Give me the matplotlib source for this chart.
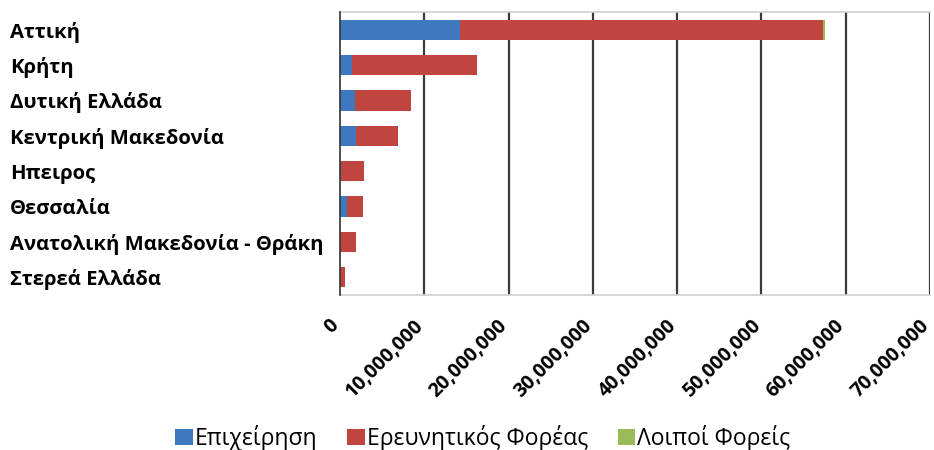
import matplotlib
matplotlib.use("Agg")
import matplotlib.pyplot as plt
import matplotlib.transforms as mtransforms
import numpy as np
from matplotlib.ticker import FuncFormatter

categories = ["Αττική", "Κρήτη", "Δυτική Ελλάδα", "Κεντρική Μακεδονία", "Ηπειρος",
              "Θεσσαλία", "Ανατολική Μακεδονία - Θράκη", "Στερεά Ελλάδα"]
series_names = ["Επιχείρηση", "Ερευνητικός Φορέας", "Λοιποί Φορείς"]
epixeirisi = [14260000, 1430000, 1820000, 1860000, 100000, 830000, 50000, 0]
ereunitikos = [43090000, 14850000, 6660000, 5030000, 2710000, 1860000, 1890000, 550000]
loipoi = [200000, 0, 0, 0, 0, 0, 0, 0]
xticks = [0, 10000000, 20000000, 30000000, 40000000, 50000000, 60000000, 70000000]
colors = ["#3E78BE", "#C0453F", "#9BBB59"]

plt.rcParams['font.family'] = ['Open Sans', 'DejaVu Sans']
fig = plt.figure(figsize=(9.34, 4.5), dpi=100)
ax = fig.add_axes([340/934, 1-295/450, 590/934, 283/450])

y = np.arange(len(categories))
h = 0.57
left = np.zeros(len(categories))
for vals, c, name in zip([epixeirisi, ereunitikos, loipoi], colors, series_names):
    ax.barh(y, vals, left=left, height=h, color=c, label=name, zorder=3)
    left = left + np.array(vals)

ax.set_ylim(len(categories) - 0.5, -0.5)
ax.set_xlim(0, 70000000)
ax.set_xticks(xticks)
ax.xaxis.set_major_formatter(FuncFormatter(lambda v, p: f"{int(v):,}"))
for v in xticks[1:]:
    ax.axvline(v, color="#3a3a3a", lw=1.6, zorder=1)

ax.set_yticks(y)
ax.set_yticklabels(categories, fontweight='bold', fontsize=14.6, ha='left')
ax.tick_params(axis='y', length=0, pad=330*72/100)
ax.tick_params(axis='x', length=0, pad=20)
offset = mtransforms.ScaledTranslation(-4/100, 0, fig.dpi_scale_trans)
for lbl in ax.get_xticklabels():
    lbl.set_rotation(45)
    lbl.set_ha('right')
    lbl.set_va('center')
    lbl.set_rotation_mode('anchor')
    lbl.set_fontweight('bold')
    lbl.set_fontsize(14)
    lbl.set_transform(lbl.get_transform() + offset)

for s in ['top', 'bottom', 'right']:
    ax.spines[s].set_color("#cfcfcf")
    ax.spines[s].set_linewidth(1.2)
ax.spines['right'].set_visible(False)
ax.spines['left'].set_color("#333333")
ax.spines['left'].set_linewidth(1.2)
ax.spines['left'].set_zorder(4)

leg = fig.legend(loc='center', bbox_to_anchor=(483 / 934, 1-438/450), ncol=3, frameon=False,
                 fontsize=16.5, handlelength=0.75, handleheight=0.75, handletextpad=0.1,
                 columnspacing=1.3, borderaxespad=0, borderpad=0)

fig.savefig("out.png", dpi=100, facecolor='white')
